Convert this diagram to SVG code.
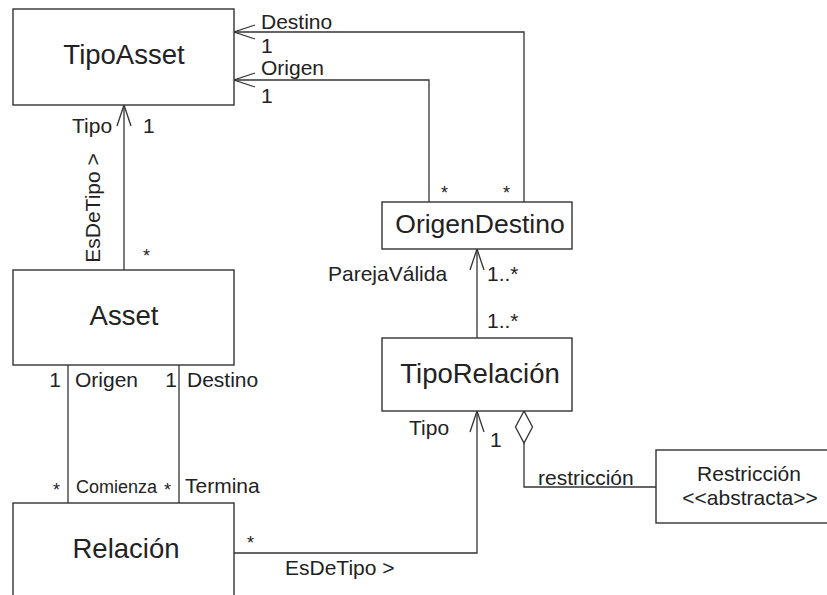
<svg xmlns="http://www.w3.org/2000/svg" width="827" height="595" viewBox="0 0 827 595">
<style>
.box{fill:#fff;stroke:#333;stroke-width:1.4}
.title{font-family:"Liberation Sans",Arial,sans-serif;font-size:27.5px;fill:#222;text-anchor:middle}
.lbl{font-family:"Liberation Sans",Arial,sans-serif;font-size:21px;fill:#222}
.sm{font-family:"Liberation Sans",Arial,sans-serif;font-size:18px;fill:#222}
.conn{fill:none;stroke:#333;stroke-width:1.3}
</style>
<defs>
<marker id="open" markerUnits="userSpaceOnUse" markerWidth="26" markerHeight="18" viewBox="-23 -9 26 18" refX="0" refY="0" orient="auto">
<path d="M-21,-7 L0,0 L-21,7" fill="none" stroke="#333" stroke-width="1.3"/>
</marker>
<marker id="diamond" markerUnits="userSpaceOnUse" markerWidth="36" markerHeight="20" viewBox="-2 -10 36 20" refX="0" refY="0" orient="auto">
<path d="M0,0 L16,8.5 L32,0 L16,-8.5 Z" fill="#fff" stroke="#333" stroke-width="1.3"/>
</marker>
</defs>
<rect width="827" height="595" fill="#fff"/>
<g id="connectors">
<path class="conn" d="M124,270 L124,105" marker-end="url(#open)"/>
<path class="conn" d="M524,202 L524,32 L234,32" marker-end="url(#open)"/>
<path class="conn" d="M429,202 L429,80 L234,80" marker-end="url(#open)"/>
<path class="conn" d="M68,365 L68,503"/>
<path class="conn" d="M179,365 L179,503"/>
<path class="conn" d="M234,553 L477,553 L477,411" marker-end="url(#open)"/>
<path class="conn" d="M477,338 L477,249" marker-end="url(#open)"/>
<path class="conn" d="M524,411 L524,487 L656,487" marker-start="url(#diamond)"/>
</g>
<g id="TipoAsset">
<rect class="box" x="13" y="9" width="221" height="96"/>
<text class="title" x="124" y="64">TipoAsset</text>
</g>
<g id="Asset">
<rect class="box" x="13" y="270" width="221" height="95"/>
<text class="title" x="124" y="325">Asset</text>
</g>
<g id="Relacion">
<rect class="box" x="13" y="503" width="221" height="100"/>
<text class="title" x="126" y="558">Relación</text>
</g>
<g id="OrigenDestino">
<rect class="box" x="382" y="202" width="190" height="47"/>
<text class="title" x="480" y="233" style="font-size:26.5px">OrigenDestino</text>
</g>
<g id="TipoRelacion">
<rect class="box" x="382" y="338" width="190" height="73"/>
<text class="title" x="480" y="383">TipoRelación</text>
</g>
<g id="Restriccion">
<rect class="box" x="656" y="450" width="180" height="73"/>
<text class="lbl" x="749" y="481" text-anchor="middle">Restricción</text>
<text class="lbl" x="750" y="505" text-anchor="middle">&lt;&lt;abstracta&gt;&gt;</text>
</g>
<g id="labels">
<text class="lbl" x="261" y="29">Destino</text>
<text class="lbl" x="261" y="53">1</text>
<text class="lbl" x="261" y="75">Origen</text>
<text class="lbl" x="261" y="103">1</text>
<text class="sm" x="441" y="199">*</text>
<text class="sm" x="503" y="199">*</text>
<text class="lbl" x="72" y="133">Tipo</text>
<text class="lbl" x="143" y="133">1</text>
<text class="lbl" transform="translate(100,208) rotate(-90)" text-anchor="middle">EsDeTipo &gt;</text>
<text class="sm" x="143" y="262">*</text>
<text class="lbl" x="61" y="387" text-anchor="end">1</text>
<text class="lbl" x="75" y="387">Origen</text>
<text class="lbl" x="177" y="387" text-anchor="end">1</text>
<text class="lbl" x="187" y="387">Destino</text>
<text class="sm" x="53" y="496">*</text>
<text class="sm" x="76" y="493">Comienza</text>
<text class="sm" x="164" y="496">*</text>
<text class="lbl" x="185" y="493">Termina</text>
<text class="sm" x="247" y="549">*</text>
<text class="lbl" x="285" y="575">EsDeTipo &gt;</text>
<text class="lbl" x="328" y="281">ParejaVálida</text>
<text class="lbl" x="487" y="281">1..*</text>
<text class="lbl" x="487" y="328">1..*</text>
<text class="lbl" x="409" y="435">Tipo</text>
<text class="lbl" x="490" y="447">1</text>
<text class="lbl" x="538" y="485">restricción</text>
</g>
</svg>
